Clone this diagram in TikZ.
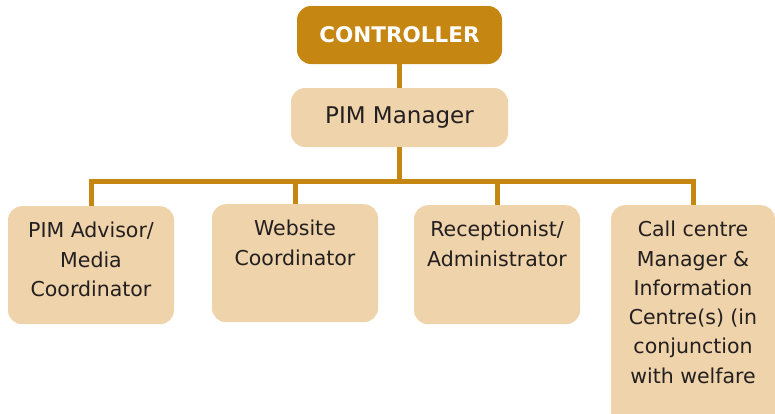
\documentclass[tikz,border=0pt]{standalone}
\usepackage{fontspec}
\usepackage{tikz}
\newfontfamily\orgfont{DejaVu Sans}
\definecolor{ddgold}{rgb}{0.776,0.525,0.071}
\definecolor{ffsand}{rgb}{0.937,0.827,0.667}
\definecolor{ttink}{rgb}{0.137,0.122,0.125}
\begin{document}
\begin{tikzpicture}[x=1pt,y=-1pt,
  link/.style={line width=5pt,color=ddgold,line join=miter,line cap=butt},
  headbox/.style={fill=ddgold,rounded corners=14pt,minimum width=205pt,minimum height=58pt,inner sep=0pt,text=white,font=\orgfont\bfseries\fontsize{21.5}{25}\selectfont},
  mgrbox/.style={fill=ffsand,rounded corners=14pt,minimum width=217pt,minimum height=59pt,inner sep=0pt,text=ttink,font=\orgfont\fontsize{23}{27}\selectfont},
  staffbox/.style={fill=ffsand,rounded corners=14pt,minimum width=166pt,inner sep=0pt,anchor=north},
  stafftext/.style={anchor=north,inner sep=0pt,align=center,text=ttink,font=\orgfont\fontsize{20.5}{29.3}\selectfont}]
\useasboundingbox (0,0) rectangle (775,413);
\clip (0,0) rectangle (775,413);

\node[headbox] (ctrl) at (399.5,35) {CONTROLLER};
\node[mgrbox] (pim) at (399.5,117.5) {PIM Manager};

\node[staffbox,minimum height=118pt] (advisor) at (91,206) {};
\node[staffbox,minimum height=118pt] (web) at (295,204) {};
\node[staffbox,minimum height=119pt] (recep) at (497,205) {};
\node[staffbox,minimum width=164pt,minimum height=230pt] (call) at (693,205) {};

\node[stafftext] (advisortxt) at ([yshift=-16pt]advisor.north) {PIM Advisor/\\Media\\Coordinator};
\node[stafftext] (webtxt) at ([yshift=-16pt]web.north) {Website\\Coordinator};
\node[stafftext] (receptxt) at ([yshift=-16pt]recep.north) {Receptionist/\\Administrator};
\node[stafftext] (calltxt) at ([yshift=-16pt]call.north) {Call centre\\Manager \&\\Information\\Centre(s) (in\\conjunction\\with welfare};

\coordinate (bus) at (399.5,181);
\draw[link] (ctrl) -- (pim);
\draw[link] (pim) -- (bus);
\draw[link] (advisor.north) |- (bus) -| (call.north);
\draw[link] (web.north) -- (web.north |- bus);
\draw[link] (recep.north) -- (recep.north |- bus);
\end{tikzpicture}
\end{document}
